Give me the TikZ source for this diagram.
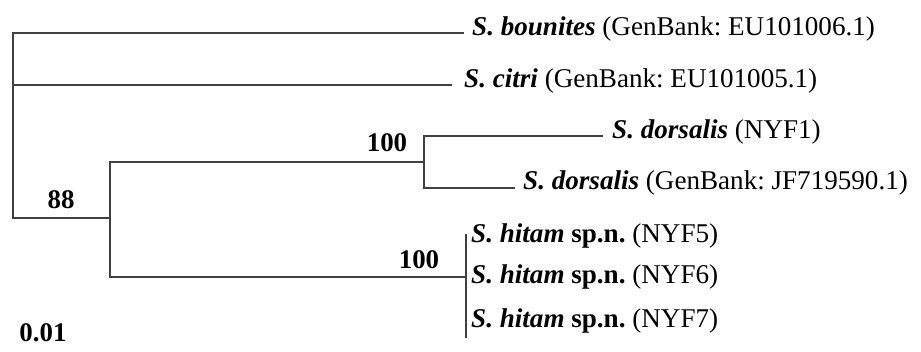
\documentclass[tikz,border=0pt]{standalone}
\usepackage{fontspec}
\setmainfont{Liberation Serif}
\frenchspacing
\begin{document}
\begin{tikzpicture}[x=1bp,y=-1bp,
  branch/.style={draw=black!75, line width=1.9bp, line cap=butt, line join=miter},
  leaf/.style={anchor=base west, inner sep=0pt, font=\fontsize{27.2}{31}\selectfont},
  support/.style={inner sep=0pt, font=\fontsize{27}{31}\selectfont\bfseries}]
\useasboundingbox (0,0) rectangle (921,351);
% tree nodes
\coordinate (root) at (13,218);
\coordinate (rtop) at (13,33);
\coordinate (rcit) at (13,85);
\coordinate (n1) at (110,218);
\coordinate (n1t) at (110,162);
\coordinate (n1b) at (110,277);
\coordinate (d) at (424,162);
\coordinate (dt) at (424,136);
\coordinate (db) at (424,188);
\coordinate (h) at (466,277);
\coordinate (ht) at (466,234);
\coordinate (hb) at (466,338);
% leaf ends
\coordinate (eb) at (464,33);
\coordinate (ec) at (452,85);
\coordinate (ed1) at (603,136);
\coordinate (ed2) at (515,188);
% labels
\node[leaf] (lb) at (472,35) {\textbf{\textit{S. bounites}} (GenBank: EU101006.1)};
\node[leaf] (lc) at (464,87) {\textbf{\textit{S. citri}} (GenBank: EU101005.1)};
\node[leaf] (ld1) at (612,138) {\textbf{\textit{S. dorsalis}} (NYF1)};
\node[leaf] (ld2) at (523,189) {\textbf{\textit{S. dorsalis}} (GenBank: JF719590.1)};
\node[leaf] (lh5) at (471,242) {\textbf{\textit{S. hitam}} \textbf{sp.n.} (NYF5)};
\node[leaf] (lh6) at (471,283) {\textbf{\textit{S. hitam}} \textbf{sp.n.} (NYF6)};
\node[leaf] (lh7) at (471,327) {\textbf{\textit{S. hitam}} \textbf{sp.n.} (NYF7)};
\node[support] (s88) at (61,200) {88};
\node[support] (s100a) at (387,143) {100};
\node[support] (s100b) at (419,260) {100};
\node[support] (scale) at (43,333) {0.01};
% branches
\draw[branch] (eb) -- (rtop) -- (root) -- (n1);
\draw[branch] (rcit) -- (ec);
\draw[branch] (d) -- (n1t) -- (n1b) -- (h);
\draw[branch] (ed1) -- (dt) -- (db) -- (ed2);
\draw[branch] (ht) -- (hb);
\end{tikzpicture}
\end{document}
